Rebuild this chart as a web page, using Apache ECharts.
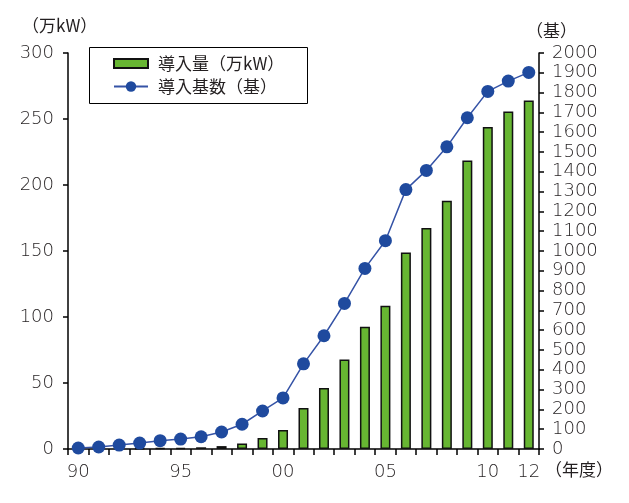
<!DOCTYPE html>
<html>
<head>
<meta charset="utf-8">
<script src="https://cdn.jsdelivr.net/npm/echarts@6/dist/echarts.min.js"></script>
<style>
  html, body { margin: 0; padding: 0; background: #fff; }
  #chart { width: 629px; height: 503px; }
</style>
</head>
<body>
<div id="chart"></div>
<script>
// fiscal years 1990-2012
const years = ['90', '91', '92', '93', '94', '95', '96', '97', '98', '99',
  '00', '01', '02', '03', '04', '05', '06', '07', '08', '09', '10', '11', '12']
const shownLabels = [0, 5, 10, 15, 20, 22]

// 導入量（万kW）
const capacity = [0.1, 0.1, 0.2, 0.4, 0.6, 0.8, 1.3, 2.2, 4.1, 8.3, 14.4, 31, 46.3, 67.8, 92.6, 108.5, 148.9, 167.5, 188, 218.6, 244, 255.6, 264]
// 導入基数（基）
const units = [5, 10, 20, 30, 42, 50, 62, 86, 125, 192, 258, 430, 572, 735, 912, 1052, 1310, 1407, 1526, 1673, 1806, 1858, 1902]

const leftTicks = { min: 0, max: 300, interval: 50 }
const rightTicks = { min: 0, max: 2000, interval: 100 }

const CJK = '"Noto Sans CJK JP", sans-serif'
const NUM = '"DejaVu Sans", sans-serif'
const TXT = '#231f20'

const chart = echarts.init(document.getElementById('chart'))

const numLabel = {
  color: TXT,
  fontSize: 18,
  fontWeight: 200,
  fontFamily: NUM,
}

const legendText = { color: TXT, fontSize: 17, fontFamily: CJK, padding: [0, 0, 0, 5] }

chart.setOption({
  animation: false,
  textStyle: { fontFamily: CJK },
  grid: { left: 68, right: 90, top: 53, bottom: 54 },
  legend: [
    {
      left: 113,
      top: 55,
      padding: 0,
      itemWidth: 34,
      itemHeight: 9,
      textStyle: legendText,
      data: [{ name: '導入量（万kW）', icon: 'rect' }],
    },
    {
      left: 113,
      top: 78,
      padding: 0,
      itemWidth: 34,
      itemHeight: 13,
      textStyle: legendText,
      data: ['導入基数（基）'],
    },
  ],
  xAxis: {
    type: 'category',
    data: years,
    axisLine: { lineStyle: { color: '#000', width: 1.5 } },
    axisTick: { show: true, interval: 0, length: 6, lineStyle: { color: '#000', width: 1.5 } },
    axisLabel: {
      ...numLabel,
      margin: 14,
      interval: (idx) => shownLabels.includes(idx),
    },
  },
  yAxis: [
    {
      type: 'value',
      ...leftTicks,
      axisLine: { show: true, lineStyle: { color: '#000', width: 1.5 } },
      axisTick: { show: true, length: 5, lineStyle: { color: '#000', width: 1.5 } },
      splitLine: { show: false },
      axisLabel: { ...numLabel, margin: 14 },
    },
    {
      type: 'value',
      position: 'right',
      ...rightTicks,
      axisLine: { show: true, lineStyle: { color: '#000', width: 1.5 } },
      axisTick: { show: true, length: 5, lineStyle: { color: '#000', width: 1.5 } },
      splitLine: { show: false },
      axisLabel: { ...numLabel, margin: 13, formatter: (v) => String(v) },
    },
  ],
  graphic: [
    {
      type: 'rect',
      shape: { x: 89.5, y: 47.5, width: 218, height: 56 },
      style: { fill: 'none', stroke: '#000', lineWidth: 1 },
    },
    { type: 'text', left: 22, top: 17, style: { text: '（万kW）', fill: TXT, font: '17px ' + CJK } },
    { type: 'text', left: 526, top: 22, style: { text: '（基）', fill: TXT, font: '17px ' + CJK } },
    { type: 'text', left: 545, top: 461, style: { text: '（年度）', fill: TXT, font: '17px ' + CJK } },
  ],
  series: [
    {
      name: '導入量（万kW）',
      type: 'bar',
      yAxisIndex: 0,
      barWidth: 10,
      itemStyle: { color: '#67b632', borderColor: '#111', borderWidth: 1.5 },
      data: capacity,
    },
    {
      name: '導入基数（基）',
      type: 'line',
      yAxisIndex: 1,
      symbol: 'circle',
      symbolSize: 13,
      lineStyle: { color: '#3553a6', width: 1.5 },
      itemStyle: { color: '#1f4a9e' },
      z: 5,
      data: units,
    },
  ],
})
</script>
</body>
</html>
